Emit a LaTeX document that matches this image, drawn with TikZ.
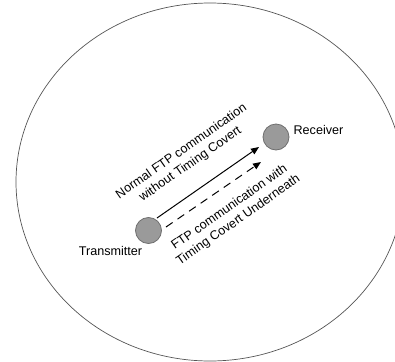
\documentclass[tikz,border=0pt]{standalone}
\usepackage{fontspec}
\setmainfont{Liberation Sans}
\usetikzlibrary{arrows.meta}
\definecolor{nodefill}{HTML}{9A9A9A}
\definecolor{nodeline}{HTML}{6E6E6E}
\definecolor{edge}{HTML}{555555}
\tikzset{
  host/.style={circle, fill=nodefill, draw=nodeline, line width=0.8bp, minimum size=26bp, inner sep=0pt},
  lbl/.style={font=\fontsize{12.6bp}{15.5bp}\selectfont, inner sep=0pt},
  rlbl/.style={lbl, align=center, rotate=35},
  link/.style={line width=1bp, -{Triangle[length=8bp,width=6.5bp]}},
}
\begin{document}
\begin{tikzpicture}[x=1bp,y=-1bp]
\useasboundingbox (0,0) rectangle (395,362);
\draw[edge, line width=0.7bp] (210,182) ellipse [x radius=194, y radius=179];
\node[host] (tx) at (148.5,230.5) {};
\node[host] (rx) at (276,137) {};
\node[lbl, anchor=base] (txl) at (110.5,255) {Transmitter};
\node[lbl, anchor=base] (rxl) at (318.5,134.5) {Receiver};
\coordinate (s1) at (157,218);
\coordinate (e1) at (259,147);
\coordinate (s2) at (166,227);
\coordinate (e2) at (261,162);
\draw[link] (s1) -- (e1);
\draw[link, dash pattern=on 8bp off 6bp] (s2) -- (e2);
\node[rlbl] (up) at (186,158) {Normal FTP communication\\without Timing Covert};
\node[rlbl] (lo) at (234,214) {FTP communication with\\Timing Covert Underneath};
\end{tikzpicture}
\end{document}
